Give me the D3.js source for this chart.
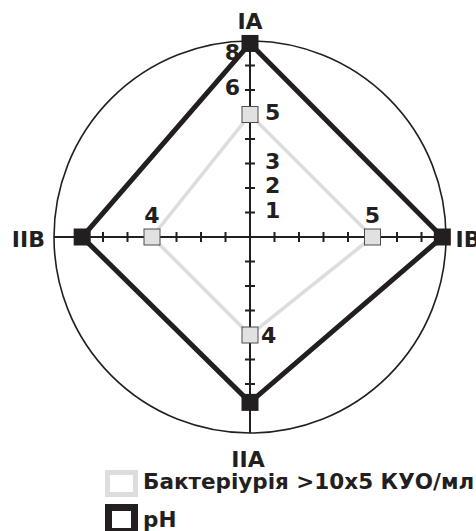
<!DOCTYPE html>
<html><head><meta charset="utf-8">
<script src="https://cdn.jsdelivr.net/npm/d3@7"></script>
<style>body{margin:0;background:#fff}svg{display:block}text{font-family:"DejaVu Sans",sans-serif;font-weight:bold;fill:#231f20}</style>
</head><body>
<svg id="c" width="476" height="531"></svg>
<script>
// Data
const axesNames = ["IA", "IB", "IIA", "IIB"];           // top, right, bottom, left
const bacteriuria = [5, 5, 4, 4];
const pH = [7.9, 7.85, 6.75, 6.85];
const tickValues = [1, 2, 3, 4, 5, 6, 7];
const tickLabels = ["1", "2", "3", "6", "8"];
const legendLabels = ["Бактеріурія >10x5 КУО/мл", "pH"];

const svg = d3.select("#c");
const cx = 250, cy = 237;
const r = d3.scaleLinear().domain([0, 8]).range([0, 196]);
const angles = [-Math.PI/2, 0, Math.PI/2, Math.PI]; // direction of each axis
const pt = (i, v) => [cx + Math.cos(angles[i]) * r(v), cy + Math.sin(angles[i]) * r(v)];
const ink = "#231f20";

// outer circle
svg.append("circle").attr("cx", cx).attr("cy", cy).attr("r", r(8))
  .attr("fill", "none").attr("stroke", ink).attr("stroke-width", 1.6);

const line = d3.line().curve(d3.curveLinearClosed);
// bacteriuria polygon
svg.append("path").attr("d", line(bacteriuria.map((v, i) => pt(i, v))))
  .attr("fill", "none").attr("stroke", "#dcdddf").attr("stroke-width", 3.6);
// pH polygon
svg.append("path").attr("d", line(pH.map((v, i) => pt(i, v))))
  .attr("fill", "none").attr("stroke", ink).attr("stroke-width", 5).attr("stroke-linejoin", "miter");

// axes
angles.forEach((a, i) => {
  const e = pt(i, 8);
  svg.append("line").attr("x1", cx).attr("y1", cy).attr("x2", e[0]).attr("y2", e[1])
    .attr("stroke", ink).attr("stroke-width", 2);
  tickValues.forEach(v => {
    const p = pt(i, v);
    const dx = -Math.sin(a) * 5, dy = Math.cos(a) * 5;
    svg.append("line").attr("x1", p[0] - dx).attr("y1", p[1] - dy).attr("x2", p[0] + dx).attr("y2", p[1] + dy)
      .attr("stroke", ink).attr("stroke-width", 2);
  });
});

// tick labels on vertical (IA) axis
tickLabels.forEach(t => {
  const v = +t;
  const y = cy - r(v);
  const left = v > 5;
  svg.append("text").text(t)
    .attr("x", left ? cx - 10 : cx + 15)
    .attr("y", v === 8 ? y + 19 : y + 5)
    .attr("text-anchor", left ? "end" : "start")
    .attr("font-size", 22);
});

// pH markers
const sq = 17;
pH.forEach((v, i) => {
  const p = pt(i, v);
  svg.append("rect").attr("x", p[0] - sq/2).attr("y", p[1] - sq/2).attr("width", sq).attr("height", sq)
    .attr("fill", ink);
});
// bacteriuria markers
const sq2 = 16;
bacteriuria.forEach((v, i) => {
  const p = pt(i, v);
  svg.append("rect").attr("x", p[0] - sq2/2).attr("y", p[1] - sq2/2).attr("width", sq2).attr("height", sq2)
    .attr("fill", "#e0e1e3").attr("stroke", "#4d4d4f").attr("stroke-width", 1);
});
// bacteriuria value labels
const labOff = [[15, 5, "start"], [0, -14, "middle"], [11, 8, "start"], [0, -14, "middle"]];
bacteriuria.forEach((v, i) => {
  const p = pt(i, v);
  svg.append("text").text(v).attr("x", p[0] + labOff[i][0]).attr("y", p[1] + labOff[i][1])
    .attr("text-anchor", labOff[i][2]).attr("font-size", 22);
});

// axis names
const namePos = [[0, -207.7, "middle"], [205.5, 10, "start"], [-2, 229.7, "middle"], [-205, 10, "end"]];
axesNames.forEach((n, i) => {
  svg.append("text").text(n).attr("x", cx + namePos[i][0]).attr("y", cy + namePos[i][1])
    .attr("text-anchor", namePos[i][2]).attr("font-size", 22);
});

// legend
const lg = svg.append("g");
lg.append("rect").attr("x", 107.5).attr("y", 472.5).attr("width", 28).attr("height", 22)
  .attr("fill", "none").attr("stroke", "#dcdddf").attr("stroke-width", 5);
lg.append("text").text(legendLabels[0]).attr("x", 143).attr("y", 489).attr("font-size", 21.5);
lg.append("rect").attr("x", 108.5).attr("y", 507.5).attr("width", 26).attr("height", 24)
  .attr("fill", "none").attr("stroke", ink).attr("stroke-width", 7);
lg.append("text").text(legendLabels[1]).attr("x", 143).attr("y", 527).attr("font-size", 21.5);
</script>
</body></html>
